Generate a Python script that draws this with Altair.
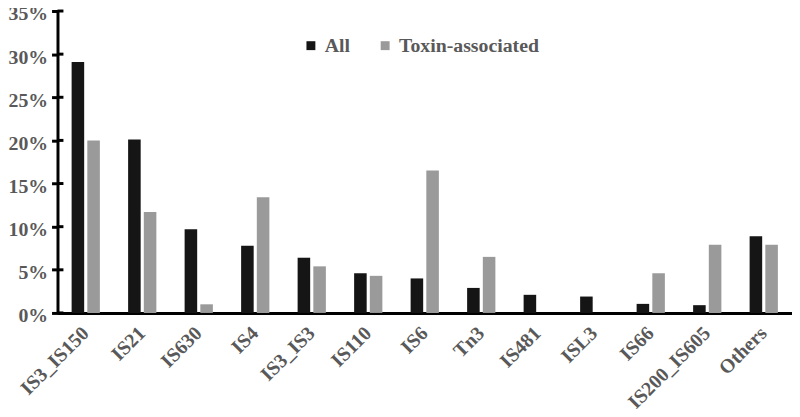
import altair as alt
import pandas as pd

categories = ["IS3_IS150", "IS21", "IS630", "IS4", "IS3_IS3", "IS110", "IS6",
              "Tn3", "IS481", "ISL3", "IS66", "IS200_IS605", "Others"]
all_values = [29.1, 20.1, 9.7, 7.8, 6.4, 4.6, 4.0, 2.9, 2.1, 1.9, 1.05, 0.9, 8.9]
toxin_values = [20.0, 11.7, 1.0, 13.4, 5.4, 4.3, 16.5, 6.5, 0.0, 0.0, 4.6, 7.9, 7.9]
series = ["All", "Toxin-associated"]
colors = ["#151515", "#9a9a9a"]
y_ticks = [0, 5, 10, 15, 20, 25, 30, 35]

rows = []
for c, a, t in zip(categories, all_values, toxin_values):
    rows.append({"category": c, "series": series[0], "value": a / 100})
    rows.append({"category": c, "series": series[1], "value": t / 100})
df = pd.DataFrame(rows)
ticks_df = pd.DataFrame({"value": [v / 100 for v in y_ticks]})

FONT = "Liberation Serif"
GRAY = "#595959"

yscale = alt.Scale(domain=[0, 0.35], nice=False)
yaxis = alt.Axis(title=None, values=[v / 100 for v in y_ticks], format=".0%",
                 grid=False, domainWidth=3, domainColor="black",
                 tickWidth=3, tickSize=6, tickColor="black",
                 labelFont=FONT, labelFontWeight="bold", labelFontSize=20,
                 labelColor=GRAY, labelPadding=4, labelOffset=3)

bars = alt.Chart(df).mark_bar().encode(
    x=alt.X("category:N", sort=categories,
            scale=alt.Scale(paddingInner=0.5, paddingOuter=0.25),
            axis=alt.Axis(title=None, ticks=False, domainWidth=3, domainColor="black",
                          labelAngle=-45, labelAlign="right", labelBaseline="middle",
                          labelFont=FONT, labelFontWeight="bold", labelFontSize=20,
                          labelColor=GRAY, labelPadding=17, labelOffset=0)),
    xOffset=alt.XOffset("series:N", sort=series, scale=alt.Scale(paddingInner=0.2)),
    y=alt.Y("value:Q", scale=yscale, axis=yaxis),
    color=alt.Color("series:N", sort=series,
                    scale=alt.Scale(domain=series, range=colors),
                    legend=alt.Legend(title=None, orient="none", direction="horizontal",
                                      legendX=246, legendY=25, symbolType="square",
                                      symbolSize=81, symbolStrokeWidth=0,
                                      labelFont=FONT, labelFontWeight="bold",
                                      labelFontSize=20, labelColor=GRAY,
                                      columnPadding=25, padding=0)),
)

inner_ticks = alt.Chart(ticks_df).mark_rule(color="black", strokeWidth=3).encode(
    y=alt.Y("value:Q", scale=yscale, axis=yaxis),
    x=alt.value(0),
    x2=alt.value(6),
)

chart = alt.layer(bars, inner_ticks).properties(
    width=742, height=305,
    padding={"left": 50, "top": 1, "right": 0, "bottom": 95},
    autosize=alt.AutoSizeParams(type="none"),
).configure_view(stroke=None)

chart.save("out.html", embed_options={"renderer": "svg", "actions": False})
